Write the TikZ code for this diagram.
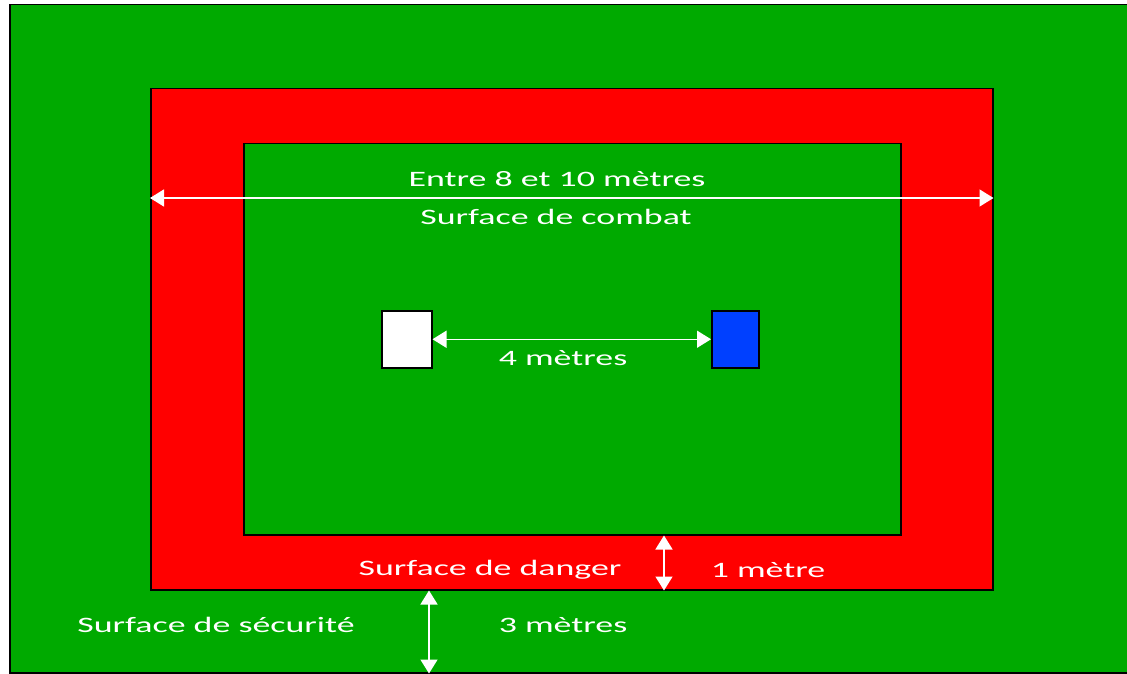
\documentclass[tikz,border=0pt]{standalone}
\usepackage{fontspec}
\setmainfont{Carlito}[FakeStretch=1.63]
\usetikzlibrary{arrows.meta,positioning,calc}
\definecolor{matgreen}{RGB}{0,170,0}
\definecolor{matred}{RGB}{255,0,0}
\definecolor{matblue}{RGB}{0,64,255}

\begin{document}
\begin{tikzpicture}[x=1pt, y=-1pt, >={Triangle[length=14pt,width=17pt]},
  zone/.style={draw=black, line width=1.5pt, anchor=north west, inner sep=0pt},
  measure/.style={<->, draw=white, fill=white, line width=1.5pt},
  lbl/.style={text=white, font=\fontsize{22}{26}\selectfont}]
  \useasboundingbox (0,0) rectangle (1127,674);
  \clip (0,0) rectangle (1127,674);
  % Define nodes
  \node[zone, fill=matgreen, minimum width=1125pt, minimum height=668pt] (secu) at (9,4) {};
  \node[zone, fill=matred, minimum width=842pt, minimum height=501pt] (danger) at (150,88) {};
  \node[zone, fill=matgreen, minimum width=657pt, minimum height=391pt] (combat) at (243,143) {};
  \node[zone, fill=white, minimum width=50pt, minimum height=57pt] (white) at (381,310) {};
  \node[zone, fill=matblue, minimum width=47pt, minimum height=57pt] (blue) at (711,310) {};
  \coordinate (wide) at (0,198);
  \coordinate (dx) at (664,0);
  \coordinate (sx) at (429,0);

  % Draw arrows
  \draw[measure] (danger.west |- wide) -- (danger.east |- wide);
  \draw[measure] (white.east) -- (blue.west);
  \draw[measure] (combat.south -| dx) -- (danger.south -| dx);
  \draw[measure] (danger.south -| sx) -- (secu.south -| sx);

  % Add labels
  \node[lbl] (entre) at (557,179) {Entre 8 et 10 mètres};
  \node[lbl] (combattxt) at (556,217) {Surface de combat};
  \node[lbl] (quatre) at (563,358) {4 mètres};
  \node[lbl] (dangertxt) at (490,570) {Surface de danger};
  \node[lbl] (un) at (768,570) {1 mètre};
  \node[lbl] (trois) at (563,625) {3 mètres};
  \node[lbl] (secutxt) at (216,625) {Surface de sécurité};
\end{tikzpicture}
\end{document}
